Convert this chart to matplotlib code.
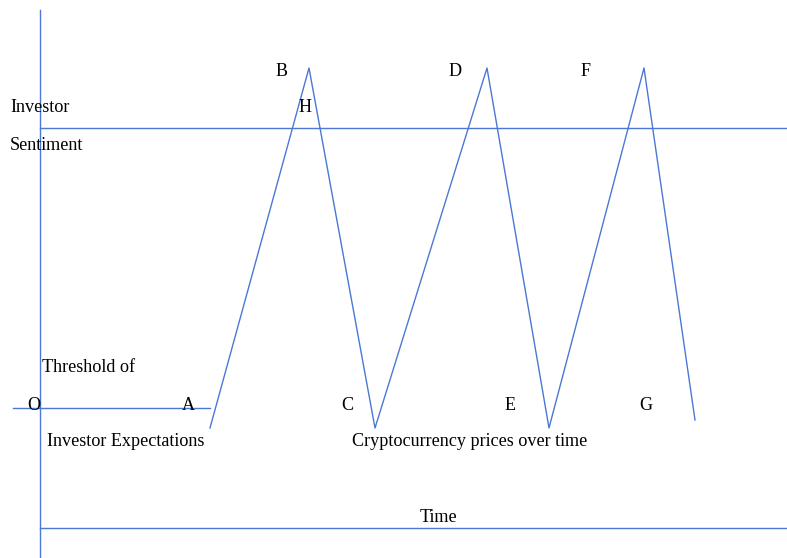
import matplotlib
matplotlib.use("Agg")
import matplotlib.pyplot as plt

# zigzag of prices (pixel coords of the diagram)
price_x = [210, 309, 375, 487, 549, 644, 695]
price_y = [428, 68, 428, 68, 428, 68, 420]

# point letters
point_labels = ["B", "H", "D", "F", "O", "A", "C", "E", "G"]
point_x = [282, 305, 455, 586, 34, 188, 347, 510, 646]
point_y = [71, 108, 71, 71, 406, 406, 406, 406, 406]

# other texts (left aligned)
texts = ["Investor", "Sentiment", "Threshold of", "Investor Expectations",
         "Cryptocurrency prices over time", "Time"]
text_x = [10, 10, 42, 47, 352, 420]
text_y = [107, 145, 368, 442, 442, 518]

blue = "#4A78D4"
fs = 13.1

fig = plt.figure(figsize=(7.87, 5.58), dpi=100)
ax = fig.add_axes([0, 0, 1, 1])
ax.set_xlim(0, 787)
ax.set_ylim(558, 0)
ax.axis("off")

# axes of the diagram
ax.plot([40, 40], [10, 558], color=blue, lw=1.0)
ax.plot([40, 787], [127.5, 127.5], color=blue, lw=1.0)
ax.plot([13, 210], [408, 408], color=blue, lw=1.0)
ax.plot([40, 787], [527.5, 527.5], color=blue, lw=1.0)

ax.plot(price_x, price_y, color=blue, lw=1.0)

for lab, x, y in zip(point_labels, point_x, point_y):
    ax.text(x, y, lab, fontsize=fs, ha="center", va="center",
            family=["Liberation Serif"])
for t, x, y in zip(texts, text_x, text_y):
    ax.text(x, y, t, fontsize=fs, ha="left", va="center",
            family=["Liberation Serif"])

fig.savefig("out.png", dpi=100)
